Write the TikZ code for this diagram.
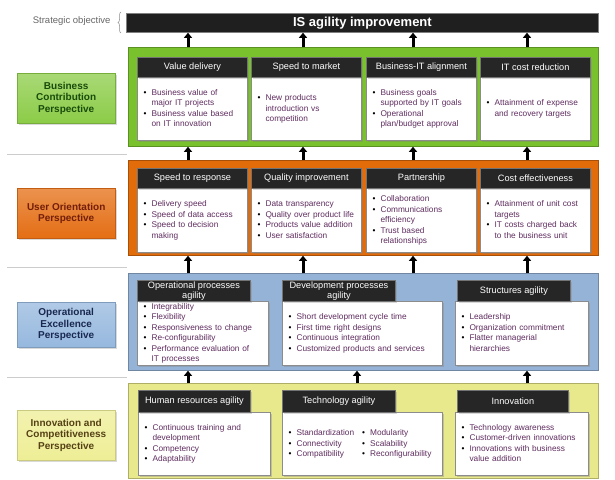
\documentclass[tikz,border=0pt]{standalone}
\usepackage{fontspec}
\setmainfont{Liberation Sans}
\usetikzlibrary{arrows.meta,shadows,decorations.pathreplacing}

\definecolor{gPanel}{RGB}{122,193,46}
\definecolor{gLabel}{RGB}{140,204,72}
\definecolor{gText}{RGB}{25,75,10}
\definecolor{oPanel}{RGB}{226,107,10}
\definecolor{oLabel}{RGB}{228,110,20}
\definecolor{oText}{RGB}{115,30,10}
\definecolor{bPanel}{RGB}{149,179,215}
\definecolor{bLabel}{RGB}{150,184,222}
\definecolor{bText}{RGB}{25,40,80}
\definecolor{yPanel}{RGB}{232,232,140}
\definecolor{yLabel}{RGB}{238,238,150}
\definecolor{yText}{RGB}{85,65,20}
\definecolor{itemText}{RGB}{95,45,95}
\definecolor{hdrGray}{RGB}{38,38,38}

\newcommand{\bodyfont}{\fontsize{8.3}{10.5}\selectfont}
\newcommand{\hdrfont}{\fontsize{9.2}{10.5}\selectfont}
\newcommand{\lblfont}{\fontsize{10}{11.5}\selectfont\bfseries}
\newcommand{\bul}{\textcolor{black}{\textbullet}}
\newenvironment{blist}{\begin{tabular}{@{}l@{\hspace{5pt}}l@{}}}{\end{tabular}}

\tikzset{
  panel/.style={draw=#1!75!black, fill=#1, line width=0.8pt, anchor=north west, minimum width=470pt, inner sep=0pt},
  lbl/.style={top color=#1!75!white, bottom color=#1, draw=#1!85!black, line width=0.4pt, anchor=north west, minimum width=98pt, align=center, font=\lblfont, inner sep=0pt, drop shadow={shadow xshift=1.5pt, shadow yshift=-1.5pt, opacity=0.3}},
  hdr/.style={fill=hdrGray, draw=black!55, line width=0.8pt, text=white, font=\hdrfont, anchor=north west, inner sep=0pt, align=center, drop shadow={shadow xshift=1.5pt, shadow yshift=-1.5pt, opacity=0.3}},
  itembox/.style={fill=white, draw=black!45, line width=1.2pt, text=itemText, font=\bodyfont, anchor=north west, inner xsep=6pt, inner ysep=0pt, align=left, drop shadow={shadow xshift=1.5pt, shadow yshift=-1.5pt, opacity=0.35}},
  uparr/.style={line width=3pt, -{Triangle[width=8pt,length=5pt]}},
  sepline/.style={draw=black!20, line width=0.8pt}
}

\begin{document}
\begin{tikzpicture}[x=1pt,y=-1pt]
\useasboundingbox (0,0) rectangle (615,479);
\coordinate (a1) at (188,0);
\coordinate (a2) at (303,0);
\coordinate (a3) at (413,0);
\coordinate (a4) at (527,0);
\coordinate (a5) at (357,0);

\node[anchor=east, text=black!60, font=\fontsize{9.5}{11}\selectfont] (so) at (114,21) {Strategic objective};
\draw[black!45, line width=0.5pt, decorate, decoration={brace, amplitude=3pt}] (121,33) -- (121,12);
\node[fill=black!88, draw=black!50, line width=0.8pt, anchor=north west, minimum width=472pt, minimum height=19pt, inner sep=0pt, text=white, font=\fontsize{13}{15}\selectfont\bfseries] (bar) at (126,13) {IS agility improvement};

\draw[sepline] (7,154) -- (127,154);
\draw[sepline] (7,267) -- (127,267);
\draw[sepline] (7,377) -- (127,377);

\node[lbl=gLabel, text=gText, minimum height=50pt] (bc) at (17,73) {Business\\Contribution\\Perspective};
\node[lbl=oLabel, text=oText, minimum height=50pt] (uo) at (17,188) {User Orientation\\Perspective};
\node[lbl=bLabel, text=bText, minimum height=45pt] (oe) at (17,302) {Operational\\Excellence\\Perspective};
\node[lbl=yLabel, text=yText, minimum height=50pt] (ic) at (17,410) {Innovation and\\Competitiveness\\Perspective};

\node[panel=gPanel, minimum height=99pt] (green) at (128,47) {};
\node[panel=oPanel, minimum height=95pt] (orange) at (128,160) {};
\node[panel=bPanel, minimum height=97pt] (blue) at (128,273) {};
\node[panel=yPanel, minimum height=95pt] (yellow) at (128,383) {};

\node[itembox, text width=98pt, minimum height=63pt] (vdb) at (137,77) {\begin{blist}\bul & Business value of\\ & major IT projects\\ \bul & Business value based\\ & on IT innovation\end{blist}};
\node[itembox, text width=98pt, minimum height=63pt] (smb) at (251,77) {\begin{blist}\bul & New products\\ & introduction vs\\ & competition\end{blist}};
\node[itembox, text width=98pt, minimum height=63pt] (bab) at (366,77) {\begin{blist}\bul & Business goals\\ & supported by IT goals\\ \bul & Operational\\ & plan/budget approval\end{blist}};
\node[itembox, text width=98pt, minimum height=63pt] (crb) at (480,77) {\begin{blist}\bul & Attainment of expense\\ & and recovery targets\end{blist}};
\node[hdr, minimum width=110pt, minimum height=20pt] (vd) at (137,57) {Value delivery};
\node[hdr, minimum width=110pt, minimum height=20pt] (sm) at (251,57) {Speed to market};
\node[hdr, minimum width=110pt, minimum height=20pt] (ba) at (366,57) {Business-IT alignment};
\node[hdr, minimum width=110pt, minimum height=20pt] (cr) at (480,57) {IT cost reduction};

\node[itembox, text width=98pt, minimum height=64pt] (srb) at (137,188) {\begin{blist}\bul & Delivery speed\\ \bul & Speed of data access\\ \bul & Speed to decision\\ & making\end{blist}};
\node[itembox, text width=98pt, minimum height=64pt] (qib) at (251,188) {\begin{blist}\bul & Data transparency\\ \bul & Quality over product life\\ \bul & Products value addition\\ \bul & User satisfaction\end{blist}};
\node[itembox, text width=98pt, minimum height=64pt] (pab) at (366,188) {\begin{blist}\bul & Collaboration\\ \bul & Communications\\ & efficiency\\ \bul & Trust based\\ & relationships\end{blist}};
\node[itembox, text width=98pt, minimum height=64pt] (ceb) at (480,188) {\begin{blist}\bul & Attainment of unit cost\\ & targets\\ \bul & IT costs charged back\\ & to the business unit\end{blist}};
\node[hdr, minimum width=110pt, minimum height=20pt] (sr) at (137,168) {Speed to response};
\node[hdr, minimum width=110pt, minimum height=20pt] (qi) at (251,168) {Quality improvement};
\node[hdr, minimum width=110pt, minimum height=20pt] (pa) at (366,168) {Partnership};
\node[hdr, minimum width=110pt, minimum height=20pt] (ce) at (480,168) {Cost effectiveness};

\node[itembox, text width=119pt, minimum height=64pt] (opb) at (137,301) {\begin{blist}\bul & Integrability\\ \bul & Flexibility\\ \bul & Responsiveness to change\\ \bul & Re-configurability\\ \bul & Performance evaluation of\\ & IT processes\end{blist}};
\node[itembox, text width=148pt, minimum height=64pt] (dpb) at (282,301) {\begin{blist}\bul & Short development cycle time\\ \bul & First time right designs\\ \bul & Continuous integration\\ \bul & Customized products and services\end{blist}};
\node[itembox, text width=121pt, minimum height=64pt] (stb) at (455,301) {\begin{blist}\bul & Leadership\\ \bul & Organization commitment\\ \bul & Flatter managerial\\ & hierarchies\end{blist}};
\node[hdr, minimum width=113pt, minimum height=21pt] (op) at (137,280) {Operational processes\\agility};
\node[hdr, minimum width=113pt, minimum height=21pt] (dp) at (282,280) {Development processes\\agility};
\node[hdr, minimum width=113pt, minimum height=21pt] (st) at (457,280) {Structures agility};

\node[itembox, text width=120pt, minimum height=63pt] (hrb) at (138,412) {\begin{blist}\bul & Continuous training and\\ & development\\ \bul & Competency\\ \bul & Adaptability\end{blist}};
\node[itembox, text width=148pt, minimum height=63pt] (tab) at (282,412) {\begin{tabular}{@{}l@{\hspace{5pt}}l@{\hspace{8pt}}l@{\hspace{5pt}}l@{}}\bul & Standardization & \bul & Modularity\\ \bul & Connectivity & \bul & Scalability\\ \bul & Compatibility & \bul & Reconfigurability\end{tabular}};
\node[itembox, text width=121pt, minimum height=63pt] (inb) at (455,412) {\begin{blist}\bul & Technology awareness\\ \bul & Customer-driven innovations\\ \bul & Innovations with business\\ & value addition\end{blist}};
\node[hdr, minimum width=112pt, minimum height=22pt] (hr) at (138,390) {Human resources agility};
\node[hdr, minimum width=113pt, minimum height=22pt] (ta) at (282,390) {Technology agility};
\node[hdr, minimum width=111pt, minimum height=22pt] (in) at (457,390) {Innovation};

\draw[uparr] (green.north -| a1) -- (bar.south -| a1);
\draw[uparr] (green.north -| a2) -- (bar.south -| a2);
\draw[uparr] (green.north -| a3) -- (bar.south -| a3);
\draw[uparr] (green.north -| a4) -- (bar.south -| a4);
\draw[uparr] (orange.north -| a1) -- (green.south -| a1);
\draw[uparr] (orange.north -| a2) -- (green.south -| a2);
\draw[uparr] (orange.north -| a3) -- (green.south -| a3);
\draw[uparr] (orange.north -| a4) -- (green.south -| a4);
\draw[uparr] (blue.north -| a1) -- (orange.south -| a1);
\draw[uparr] (blue.north -| a2) -- (orange.south -| a2);
\draw[uparr] (blue.north -| a3) -- (orange.south -| a3);
\draw[uparr] (blue.north -| a4) -- (orange.south -| a4);
\draw[uparr] (yellow.north -| a1) -- (blue.south -| a1);
\draw[uparr] (yellow.north -| a5) -- (blue.south -| a5);
\draw[uparr] (yellow.north -| a4) -- (blue.south -| a4);
\end{tikzpicture}
\end{document}
